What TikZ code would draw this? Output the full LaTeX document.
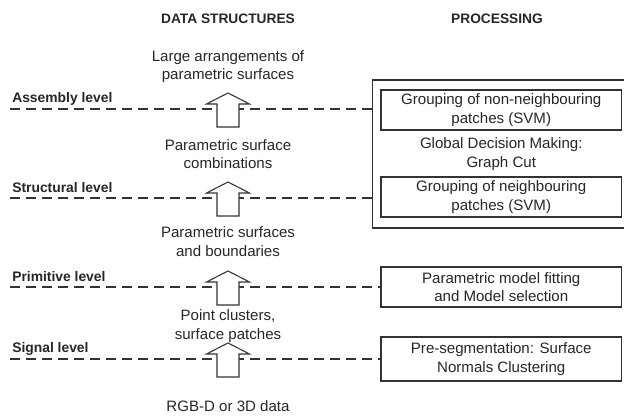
\documentclass[tikz,border=0pt]{standalone}
\usepackage{fontspec}
\setmainfont{Liberation Sans}
\usetikzlibrary{positioning}

\begin{document}
\begin{tikzpicture}[
		x=0.75pt, y=-0.75pt,
		every node/.style={inner sep=0pt, text=black!85},
		txt/.style={align=center, font=\fontsize{11.3}{13.9}\selectfont},
		head/.style={font=\fontsize{10.3}{12}\selectfont\bfseries},
		lvl/.style={anchor=west, font=\fontsize{10.4}{12}\selectfont\bfseries},
		procbox/.style={txt, draw=black!80, line width=0.9pt, minimum width=180.4pt, minimum height=30pt},
		levelline/.style={draw=black!80, line width=0.9pt, dash pattern=on 7.5pt off 4.5pt},
		blockarrow/.style={draw=black!80, fill=white, line width=0.8pt, line join=miter}
		]
	\useasboundingbox (0,0) rectangle (624,420);
	% column titles
	\node[head] (ds) at (228,19) {DATA STRUCTURES};
	\node[head] (proc) at (497,19) {PROCESSING};
	% data structures
	\node[txt] (d4) at (228,66.5) {Large arrangements of\\parametric surfaces};
	\node[txt] (d3) at (228,154) {Parametric surface\\combinations};
	\node[txt] (d2) at (228,241.5) {Parametric surfaces\\and boundaries};
	\node[txt] (d1) at (228,326) {Point clusters,\\surface patches};
	\node[txt] (d0) at (228,406) {RGB-D or 3D data};
	% processing
	\node[draw=black!80, line width=0.8pt, minimum width=190pt, minimum height=111pt] (grp) at (499.35,154) {};
	\node[procbox] (pg1) at (501.25,110) {Grouping of non-neighbouring\\patches (SVM)};
	\node[txt] (gdm) at (501.25,154) {Global Decision Making:\\Graph Cut};
	\node[procbox] (pg2) at (501.25,197) {Grouping of neighbouring\\patches (SVM)};
	\node[procbox] (pm) at (501.25,287) {Parametric model fitting\\and Model selection};
	\node[procbox, minimum height=33pt] (ps) at (501.25,359) {Pre-segmentation: Surface\\Normals Clustering};
	% levels
	\foreach \L/\lab/\nm/\tg in {109/Assembly level/asm/grp, 198/Structural level/str/grp,
			287/Primitive level/prim/pm, 359/Signal level/sig/ps} {
		\coordinate (l\nm) at (10,\L);
		\coordinate (a\nm) at (228,\L);
		\node[lvl] (t\nm) at (12,\L-10) {\lab};
		\draw[levelline] (l\nm) -- (l\nm -| \tg.west);
		\draw[blockarrow, shift={(a\nm)}] (0,-16) -- (21.5,-5) -- (11,-5) -- (11,18)
			-- (-11,18) -- (-11,-5) -- (-21.5,-5) -- cycle;
	}
\end{tikzpicture}
\end{document}
